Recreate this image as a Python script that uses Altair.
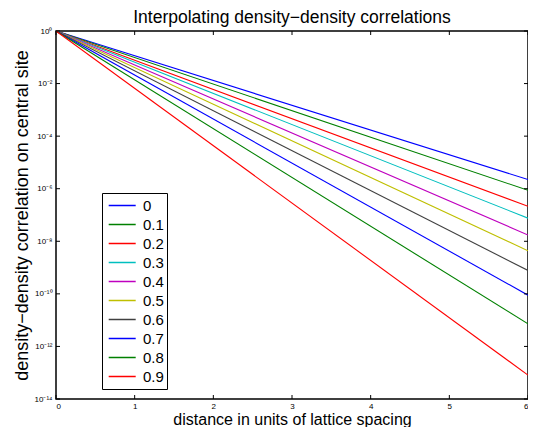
import json
import altair as alt
import pandas as pd

# ---- data ----
categories = ["0", "0.1", "0.2", "0.3", "0.4", "0.5", "0.6", "0.7", "0.8", "0.9"]
x_start = 0.0
x_end = 6.0
y_start = 1.0
end_log10 = [-5.65, -6.06, -6.67, -7.12, -7.76, -8.36, -9.11, -10.05, -11.14, -13.09]
colors = ["#0000ff", "#008000", "#ff0000", "#00bfbf", "#bf00bf",
          "#bfbf00", "#404040", "#0000ff", "#008000", "#ff0000"]

x_tick_values = [0, 1, 2, 3, 4, 5, 6]
y_tick_values = [1e0, 1e-2, 1e-4, 1e-6, 1e-8, 1e-10, 1e-12, 1e-14]
y_tick_labels = ["10⁰", "10⁻²", "10⁻⁴", "10⁻⁶", "10⁻⁸", "10⁻¹⁰", "10⁻¹²", "10⁻¹⁴"]

title_text = "Interpolating density\u2212density correlations"
x_title = "distance in units of lattice spacing"
y_title = "density\u2212density correlation on central site"

FONT = "Liberation Sans"
W, H = 472, 368

rows = []
for i, (c, e) in enumerate(zip(categories, end_log10)):
    rows.append({"x": x_start, "y": y_start, "series": c, "order": i})
    rows.append({"x": x_end, "y": 10 ** e, "series": c, "order": i})
df = pd.DataFrame(rows)

xt = pd.DataFrame({"x": x_tick_values})
yt = pd.DataFrame({"y": y_tick_values})

xscale = alt.Scale(domain=[0, 6], nice=False, zero=False)
yscale = alt.Scale(type="log", domain=[1e-14, 1], nice=False)

label_expr = json.dumps(y_tick_labels, ensure_ascii=False) + "[round(-log(datum.value)/LN10/2)]"

x_axis = alt.Axis(
    values=x_tick_values, format="d", ticks=False, domain=False, grid=False,
    labelFont=FONT, labelFontSize=8, labelColor="black", labelPadding=3,
    title=x_title, titleFont=FONT, titleFontSize=16, titleFontWeight="normal",
    titleColor="black", titlePadding=1)
y_axis = alt.Axis(
    values=y_tick_values, labelExpr=label_expr, ticks=False, domain=False, grid=False,
    labelFont=FONT, labelFontSize=8, labelColor="black", labelPadding=4,
    title=y_title, titleFont=FONT, titleFontSize=18, titleFontWeight="normal",
    titleColor="black", titlePadding=3)


def build(legend_extra):
    legend = alt.Legend(
        title=None, orient="none", legendX=46, legendY=162,
        symbolType="stroke", symbolStrokeWidth=1.3, symbolSize=729,
        symbolOffset=2.7, clipHeight=19.0,
        labelFont=FONT, labelFontSize=15, labelColor="black",
        labelOffset=6.3, padding=3, rowPadding=0,
        fillColor="white", strokeColor="black",
        labelExpr="datum.label == '0' ? '\u2002' + datum.label : datum.label",
        **legend_extra,
    )
    lines = alt.Chart(df).mark_line(strokeWidth=1.1, clip=True).encode(
        x=alt.X("x:Q", scale=xscale, axis=x_axis),
        y=alt.Y("y:Q", scale=yscale, axis=y_axis),
        color=alt.Color("series:N", scale=alt.Scale(domain=categories, range=colors),
                        legend=legend),
        detail="series:N",
        order="order:Q",
    )
    tick_kw = dict(color="black", strokeWidth=1)
    bottom = alt.Chart(xt).mark_rule(**tick_kw).encode(
        x=alt.X("x:Q", scale=xscale, axis=x_axis), y=alt.value(H), y2=alt.value(H - 4))
    top = alt.Chart(xt).mark_rule(**tick_kw).encode(
        x=alt.X("x:Q", scale=xscale, axis=x_axis), y=alt.value(0), y2=alt.value(4))
    left = alt.Chart(yt).mark_rule(**tick_kw).encode(
        y=alt.Y("y:Q", scale=yscale, axis=y_axis), x=alt.value(0), x2=alt.value(4))
    right = alt.Chart(yt).mark_rule(**tick_kw).encode(
        y=alt.Y("y:Q", scale=yscale, axis=y_axis), x=alt.value(W - 4), x2=alt.value(W))
    ch = alt.layer(lines, bottom, top, left, right).properties(
        width=W, height=H,
        autosize=alt.AutoSizeParams(type="none"),
        padding={"left": 48, "top": 23, "right": 0, "bottom": 28},
        background="white",
        title=alt.TitleParams(title_text, font=FONT, fontSize=17.5, fontWeight="normal",
                              color="black", anchor="middle", offset=1),
    ).configure_view(stroke="black", strokeWidth=1.5)
    return ch


chart = None
for extra in ({"encode": {"legend": {"update": {"strokeWidth": {"value": 2}}}}},
              {"strokeWidth": 2},
              {}):
    try:
        c = build(extra)
        c.to_dict()
        chart = c
        break
    except Exception:
        continue

chart.save("out.html", embed_options={"renderer": "svg", "actions": False})
